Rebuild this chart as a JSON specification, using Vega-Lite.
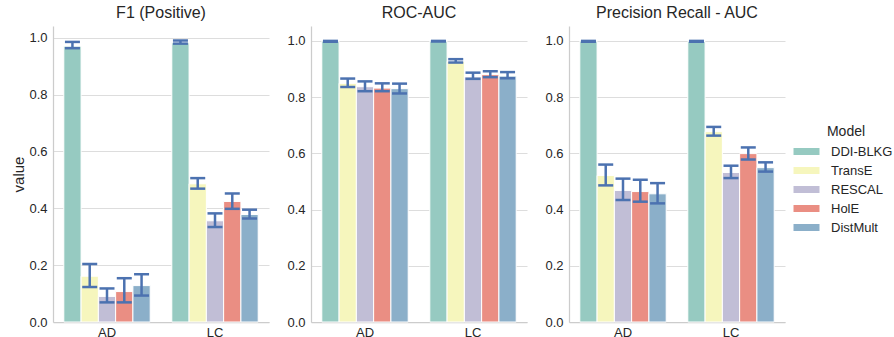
{
  "$schema": "https://vega.github.io/schema/vega-lite/v6.json",
  "padding": {"left": 11, "top": 5, "right": 0, "bottom": 0},
  "background": "white",
  "data": {"values": [
    {"metric":"F1","group":"AD","model":"DDI-BLKG","value":0.970,"lo":0.963,"hi":0.985},
    {"metric":"F1","group":"AD","model":"TransE","value":0.161,"lo":0.123,"hi":0.204},
    {"metric":"F1","group":"AD","model":"RESCAL","value":0.090,"lo":0.069,"hi":0.118},
    {"metric":"F1","group":"AD","model":"HolE","value":0.107,"lo":0.069,"hi":0.154},
    {"metric":"F1","group":"AD","model":"DistMult","value":0.128,"lo":0.093,"hi":0.168},
    {"metric":"F1","group":"LC","model":"DDI-BLKG","value":0.982,"lo":0.979,"hi":0.990},
    {"metric":"F1","group":"LC","model":"TransE","value":0.486,"lo":0.469,"hi":0.506},
    {"metric":"F1","group":"LC","model":"RESCAL","value":0.356,"lo":0.334,"hi":0.382},
    {"metric":"F1","group":"LC","model":"HolE","value":0.424,"lo":0.398,"hi":0.452},
    {"metric":"F1","group":"LC","model":"DistMult","value":0.378,"lo":0.364,"hi":0.395},
    {"metric":"ROC","group":"AD","model":"DDI-BLKG","value":0.999,"lo":0.997,"hi":1.0},
    {"metric":"ROC","group":"AD","model":"TransE","value":0.849,"lo":0.836,"hi":0.866},
    {"metric":"ROC","group":"AD","model":"RESCAL","value":0.837,"lo":0.821,"hi":0.856},
    {"metric":"ROC","group":"AD","model":"HolE","value":0.832,"lo":0.821,"hi":0.849},
    {"metric":"ROC","group":"AD","model":"DistMult","value":0.830,"lo":0.813,"hi":0.848},
    {"metric":"ROC","group":"LC","model":"DDI-BLKG","value":0.999,"lo":0.998,"hi":1.0},
    {"metric":"ROC","group":"LC","model":"TransE","value":0.927,"lo":0.923,"hi":0.935},
    {"metric":"ROC","group":"LC","model":"RESCAL","value":0.872,"lo":0.865,"hi":0.887},
    {"metric":"ROC","group":"LC","model":"HolE","value":0.880,"lo":0.871,"hi":0.892},
    {"metric":"ROC","group":"LC","model":"DistMult","value":0.875,"lo":0.867,"hi":0.889},
    {"metric":"PR","group":"AD","model":"DDI-BLKG","value":0.999,"lo":0.997,"hi":1.0},
    {"metric":"PR","group":"AD","model":"TransE","value":0.521,"lo":0.486,"hi":0.560},
    {"metric":"PR","group":"AD","model":"RESCAL","value":0.468,"lo":0.434,"hi":0.510},
    {"metric":"PR","group":"AD","model":"HolE","value":0.464,"lo":0.428,"hi":0.506},
    {"metric":"PR","group":"AD","model":"DistMult","value":0.456,"lo":0.422,"hi":0.494},
    {"metric":"PR","group":"LC","model":"DDI-BLKG","value":0.998,"lo":0.997,"hi":1.0},
    {"metric":"PR","group":"LC","model":"TransE","value":0.677,"lo":0.663,"hi":0.694},
    {"metric":"PR","group":"LC","model":"RESCAL","value":0.532,"lo":0.512,"hi":0.556},
    {"metric":"PR","group":"LC","model":"HolE","value":0.599,"lo":0.578,"hi":0.621},
    {"metric":"PR","group":"LC","model":"DistMult","value":0.549,"lo":0.535,"hi":0.568}
  ]},
  "hconcat": [
    {
      "width": 216, "height": 296,
      "title": "F1 (Positive)",
      "transform": [{"filter": "datum.metric === 'F1'"}],
      "encoding": {
        "x": {"field": "group", "type": "nominal", "scale": {"paddingInner": 0.2, "paddingOuter": 0.1}},
        "xOffset": {"field": "model", "type": "nominal", "sort": ["DDI-BLKG","TransE","RESCAL","HolE","DistMult"], "scale": {"paddingInner": 0, "paddingOuter": 0}}
      },
      "layer": [
        {"mark": {"type": "bar", "stroke": "white", "strokeWidth": 1},
         "encoding": {
           "y": {"field": "value", "type": "quantitative", "title": "value", "scale": {"domain": [0, 1.041], "nice": false, "zero": true}, "axis": {"values": [0,0.2,0.4,0.6,0.8,1.0], "format": ".1f"}},
           "color": {"field": "model", "type": "nominal", "sort": ["DDI-BLKG","TransE","RESCAL","HolE","DistMult"],
             "scale": {"domain": ["DDI-BLKG","TransE","RESCAL","HolE","DistMult"], "range": ["#96cac1","#f6f6bd","#c1bed6","#ea8e83","#8bafc9"]},
             "legend": {"orient": "none", "legendX": 747, "legendY": 99, "title": "Model"}}
         }},
        {"mark": {"type": "rule", "color": "#4c72b0", "strokeWidth": 2.5},
         "encoding": {"y": {"field": "lo", "type": "quantitative", "title": "value", "scale": {"domain": [0, 1.041], "nice": false}}, "y2": {"field": "hi"}}},
        {"mark": {"type": "tick", "color": "#4c72b0", "thickness": 2.5, "size": 15, "opacity": 1},
         "encoding": {"y": {"field": "lo", "type": "quantitative", "title": "value", "scale": {"domain": [0, 1.041], "nice": false}}}},
        {"mark": {"type": "tick", "color": "#4c72b0", "thickness": 2.5, "size": 15, "opacity": 1},
         "encoding": {"y": {"field": "hi", "type": "quantitative", "title": "value", "scale": {"domain": [0, 1.041], "nice": false}}}}
      ]
    },
    {
      "width": 216, "height": 296,
      "title": "ROC-AUC",
      "transform": [{"filter": "datum.metric === 'ROC'"}],
      "encoding": {
        "x": {"field": "group", "type": "nominal", "scale": {"paddingInner": 0.2, "paddingOuter": 0.1}},
        "xOffset": {"field": "model", "type": "nominal", "sort": ["DDI-BLKG","TransE","RESCAL","HolE","DistMult"], "scale": {"paddingInner": 0, "paddingOuter": 0}}
      },
      "layer": [
        {"mark": {"type": "bar", "stroke": "white", "strokeWidth": 1},
         "encoding": {
           "y": {"field": "value", "type": "quantitative", "title": null, "scale": {"domain": [0, 1.053], "nice": false, "zero": true}, "axis": {"values": [0,0.2,0.4,0.6,0.8,1.0], "format": ".1f"}},
           "color": {"field": "model", "type": "nominal", "sort": ["DDI-BLKG","TransE","RESCAL","HolE","DistMult"],
             "scale": {"domain": ["DDI-BLKG","TransE","RESCAL","HolE","DistMult"], "range": ["#96cac1","#f6f6bd","#c1bed6","#ea8e83","#8bafc9"]}}
         }},
        {"mark": {"type": "rule", "color": "#4c72b0", "strokeWidth": 2.5},
         "encoding": {"y": {"field": "lo", "type": "quantitative", "title": null, "scale": {"domain": [0, 1.053], "nice": false}}, "y2": {"field": "hi"}}},
        {"mark": {"type": "tick", "color": "#4c72b0", "thickness": 2.5, "size": 15, "opacity": 1},
         "encoding": {"y": {"field": "lo", "type": "quantitative", "title": null, "scale": {"domain": [0, 1.053], "nice": false}}}},
        {"mark": {"type": "tick", "color": "#4c72b0", "thickness": 2.5, "size": 15, "opacity": 1},
         "encoding": {"y": {"field": "hi", "type": "quantitative", "title": null, "scale": {"domain": [0, 1.053], "nice": false}}}}
      ]
    },
    {
      "width": 216, "height": 296,
      "title": "Precision Recall - AUC",
      "transform": [{"filter": "datum.metric === 'PR'"}],
      "encoding": {
        "x": {"field": "group", "type": "nominal", "scale": {"paddingInner": 0.2, "paddingOuter": 0.1}},
        "xOffset": {"field": "model", "type": "nominal", "sort": ["DDI-BLKG","TransE","RESCAL","HolE","DistMult"], "scale": {"paddingInner": 0, "paddingOuter": 0}}
      },
      "layer": [
        {"mark": {"type": "bar", "stroke": "white", "strokeWidth": 1},
         "encoding": {
           "y": {"field": "value", "type": "quantitative", "title": null, "scale": {"domain": [0, 1.053], "nice": false, "zero": true}, "axis": {"values": [0,0.2,0.4,0.6,0.8,1.0], "format": ".1f"}},
           "color": {"field": "model", "type": "nominal", "sort": ["DDI-BLKG","TransE","RESCAL","HolE","DistMult"],
             "scale": {"domain": ["DDI-BLKG","TransE","RESCAL","HolE","DistMult"], "range": ["#96cac1","#f6f6bd","#c1bed6","#ea8e83","#8bafc9"]}}
         }},
        {"mark": {"type": "rule", "color": "#4c72b0", "strokeWidth": 2.5},
         "encoding": {"y": {"field": "lo", "type": "quantitative", "title": null, "scale": {"domain": [0, 1.053], "nice": false}}, "y2": {"field": "hi"}}},
        {"mark": {"type": "tick", "color": "#4c72b0", "thickness": 2.5, "size": 15, "opacity": 1},
         "encoding": {"y": {"field": "lo", "type": "quantitative", "title": null, "scale": {"domain": [0, 1.053], "nice": false}}}},
        {"mark": {"type": "tick", "color": "#4c72b0", "thickness": 2.5, "size": 15, "opacity": 1},
         "encoding": {"y": {"field": "hi", "type": "quantitative", "title": null, "scale": {"domain": [0, 1.053], "nice": false}}}}
      ]
    }
  ],
  "resolve": {"scale": {"color": "shared"}},
  "config": {
    "font": "Liberation Sans",
    "view": {"stroke": null},
    "concat": {"spacing": 17},
    "axis": {
      "labelFont": "Liberation Sans", "titleFont": "Liberation Sans",
      "labelColor": "#262626", "titleColor": "#262626",
      "labelFontSize": 13, "titleFontSize": 15, "titleFontWeight": "normal",
      "ticks": false, "domainColor": "#cccccc", "domainWidth": 1.25,
      "gridColor": "#dddddd", "gridWidth": 1, "labelPadding": 6, "titlePadding": 2
    },
    "axisX": {"grid": false, "labelAngle": 0, "title": null, "labelPadding": 4},
    "axisY": {"grid": true},
    "title": {"fontSize": 16, "fontWeight": "normal", "color": "#262626", "font": "Liberation Sans", "offset": 5},
    "legend": {
      "titleAnchor": "middle", "titleFontSize": 14, "titleFontWeight": "normal", "titleColor": "#262626",
      "labelFontSize": 13, "labelColor": "#262626", "labelFont": "Liberation Sans", "titleFont": "Liberation Sans",
      "symbolType": "M-2,-0.54L2,-0.54L2,0.54L-2,0.54Z", "symbolSize": 169, "symbolStrokeWidth": 0,
      "labelOffset": 18, "rowPadding": 5, "titlePadding": 6
    }
  }
}
